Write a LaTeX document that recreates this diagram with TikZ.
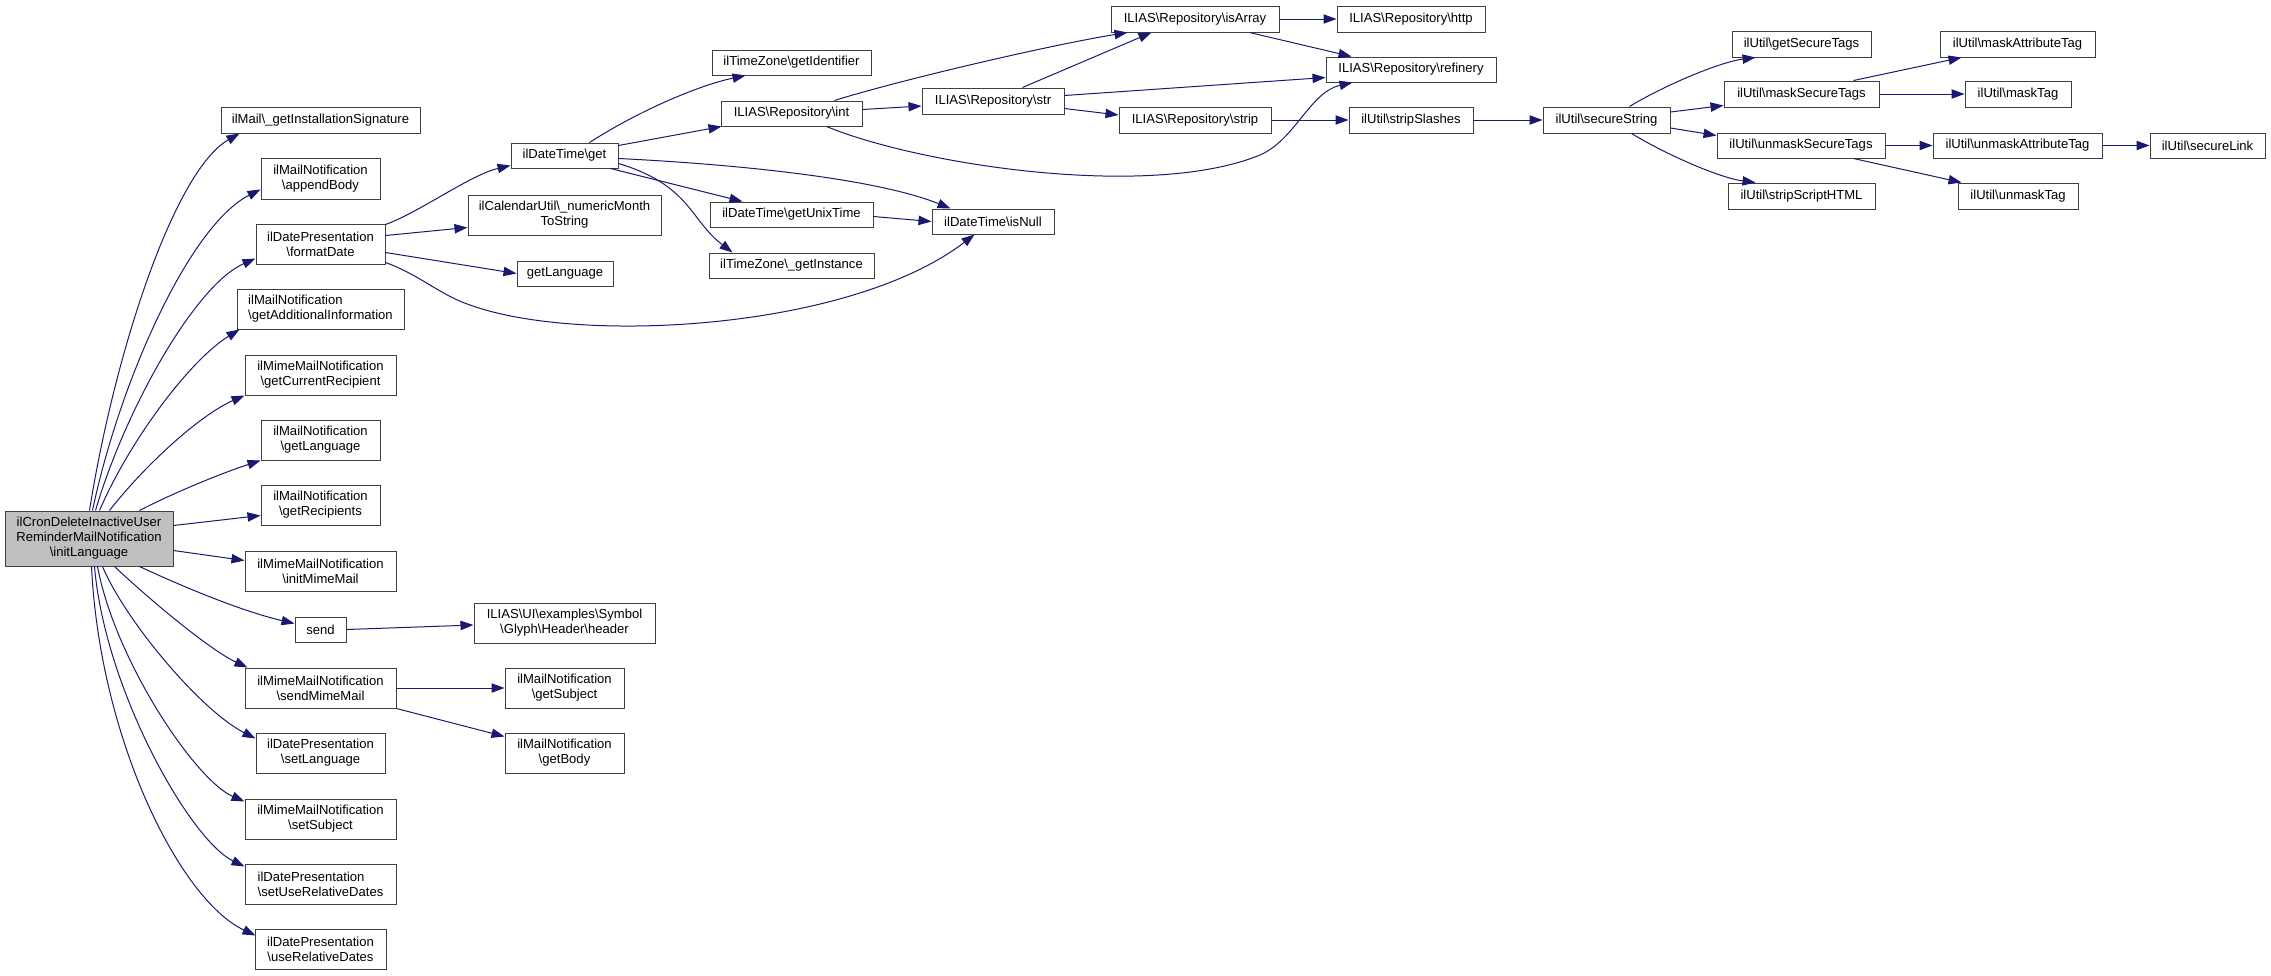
\documentclass[tikz,border=0pt]{standalone}
\usepackage{fontspec}
\setmainfont{Liberation Sans}
\usetikzlibrary{arrows.meta,calc}
\definecolor{edgeblue}{HTML}{191970}
\definecolor{boxborder}{HTML}{404040}
\definecolor{rootfill}{HTML}{BFBFBF}
\newcommand\BS{\textbackslash}
\newcommand\mkbox[7][]{%
  \pgfmathsetmacro\bxcx{(#3+#5)/2}%
  \pgfmathsetmacro\bxcy{(#4+#6)/2}%
  \pgfmathsetmacro\bxw{(#5-#3)*0.75}%
  \pgfmathsetmacro\bxh{(#6-#4)*0.75}%
  \node[box,minimum width=\bxw pt,minimum height=\bxh pt,#1] (#2) at (\bxcx,\bxcy) {#7};}
\tikzset{
  box/.style={draw=boxborder, line width=0.75pt, fill=white, inner sep=0pt, align=center,
    font=\fontsize{9.8}{11.25}\selectfont},
  e/.style={draw=edgeblue, line width=0.75pt, -{Triangle[length=9.75pt,width=7pt]}},
}
\begin{document}
\begin{tikzpicture}[x=0.75pt,y=-0.75pt]
\useasboundingbox (0,0) rectangle (2271,975);
% ---- nodes
\mkbox[fill=rootfill]{root}{5}{511}{173}{566}{ilCronDeleteInactiveUser\\ReminderMailNotification\\\BS initLanguage}
\mkbox{sig}{221}{107}{420}{133}{ilMail\BS\_getInstallationSignature}
\mkbox{append}{261}{158}{380}{199}{ilMailNotification\\\BS appendBody}
\mkbox{fmt}{256}{224}{385}{264}{ilDatePresentation\\\BS formatDate}
\mkbox[align=left]{addinfo}{237}{289}{404}{329}{ilMailNotification\\\BS getAdditionalInformation}
\mkbox{currec}{245}{355}{396}{395}{ilMimeMailNotification\\\BS getCurrentRecipient}
\mkbox{mnlang}{261}{420}{380}{460}{ilMailNotification\\\BS getLanguage}
\mkbox{recip}{261}{485}{380}{525}{ilMailNotification\\\BS getRecipients}
\mkbox{initmm}{245}{551}{396}{591}{ilMimeMailNotification\\\BS initMimeMail}
\mkbox{send}{295}{617}{346}{642}{send}
\mkbox{sendmm}{245}{668}{396}{708}{ilMimeMailNotification\\\BS sendMimeMail}
\mkbox{setlang}{256}{733}{385}{773}{ilDatePresentation\\\BS setLanguage}
\mkbox{setsubj}{245}{799}{396}{839}{ilMimeMailNotification\\\BS setSubject}
\mkbox[align=left]{setrel}{245}{864}{396}{904}{ilDatePresentation\\\BS setUseRelativeDates}
\mkbox{userel}{255}{929}{386}{969}{ilDatePresentation\\\BS useRelativeDates}
\mkbox{get}{511}{143}{618}{168}{ilDateTime\BS get}
\mkbox{nmts}{468}{195}{661}{235}{ilCalendarUtil\BS\_numericMonth\\ToString}
\mkbox{glang}{517}{261}{613}{286}{getLanguage}
\mkbox{getid}{712}{50}{871}{75}{ilTimeZone\BS getIdentifier}
\mkbox{int}{721}{101}{862}{126}{ILIAS\BS Repository\BS int}
\mkbox{unix}{710}{202}{873}{227}{ilDateTime\BS getUnixTime}
\mkbox{inst}{709}{253}{874}{278}{ilTimeZone\BS\_getInstance}
\mkbox{isnull}{932}{209}{1054}{234}{ilDateTime\BS isNull}
\mkbox{isarray}{1111}{6}{1279}{32}{ILIAS\BS Repository\BS isArray}
\mkbox{str}{922}{88}{1064}{114}{ILIAS\BS Repository\BS str}
\mkbox{strip}{1119}{107}{1271}{133}{ILIAS\BS Repository\BS strip}
\mkbox{http}{1337}{6}{1485}{32}{ILIAS\BS Repository\BS http}
\mkbox{refin}{1326}{57}{1496}{82}{ILIAS\BS Repository\BS refinery}
\mkbox{slashes}{1349}{107}{1473}{133}{ilUtil\BS stripSlashes}
\mkbox{sstr}{1543}{107}{1670}{133}{ilUtil\BS secureString}
\mkbox{gst}{1732}{31}{1871}{57}{ilUtil\BS getSecureTags}
\mkbox{mst}{1724}{81}{1879}{107}{ilUtil\BS maskSecureTags}
\mkbox{ust}{1717}{133}{1885}{158}{ilUtil\BS unmaskSecureTags}
\mkbox{ssh}{1728}{183}{1875}{209}{ilUtil\BS stripScriptHTML}
\mkbox{mat}{1940}{31}{2095}{57}{ilUtil\BS maskAttributeTag}
\mkbox{mtag}{1965}{81}{2071}{107}{ilUtil\BS maskTag}
\mkbox{uat}{1933}{133}{2102}{158}{ilUtil\BS unmaskAttributeTag}
\mkbox{slink}{2150}{133}{2265}{158}{ilUtil\BS secureLink}
\mkbox{utag}{1958}{183}{2078}{209}{ilUtil\BS unmaskTag}
\mkbox{header}{474}{603}{655}{643}{ILIAS\BS UI\BS examples\BS Symbol\\\BS Glyph\BS Header\BS header}
\mkbox{gsubj}{505}{668}{624}{708}{ilMailNotification\\\BS getSubject}
\mkbox{gbody}{505}{733}{624}{773}{ilMailNotification\\\BS getBody}
% ---- edges from root
\draw[e] ($(root.north west)+(85,0)$) .. controls (115,350) and (175,170) .. ($(sig.south west)+(19,0)$);
\draw[e] ($(root.north west)+(88,0)$) .. controls (120,380) and (190,225) .. ($(append.south west)+(0,-10)$);
\draw[e] ($(root.north west)+(91,0)$) .. controls (125,410) and (195,285) .. ($(fmt.south west)+(0,-6)$);
\draw[e] ($(root.north west)+(95,0)$) .. controls (130,440) and (190,360) .. ($(addinfo.south west)+(3,0)$);
\draw[e] ($(root.north west)+(105,0)$) .. controls (145,465) and (200,415) .. (currec.south west);
\draw[e] ($(root.north west)+(135,0)$) .. controls (175,492) and (225,472) .. (mnlang.south west);
\draw[e] ($(root.north east)+(0,15)$) -- ($(recip.south west)+(0,-10)$);
\draw[e] ($(root.north east)+(0,40)$) -- ($(initmm.north west)+(0,10)$);
\draw[e] ($(root.south west)+(135,0)$) .. controls (190,590) and (245,612) .. ($(send.north west)+(0,7)$);
\draw[e] ($(root.south west)+(110,0)$) .. controls (150,600) and (210,650) .. ($(sendmm.north west)+(3,0)$);
\draw[e] ($(root.south west)+(98,0)$) .. controls (125,620) and (200,710) .. ($(setlang.north west)+(0,6)$);
\draw[e] ($(root.south west)+(93,0)$) .. controls (115,660) and (195,780) .. ($(setsubj.north west)+(0,3)$);
\draw[e] ($(root.south west)+(90,0)$) .. controls (105,690) and (190,840) .. ($(setrel.north west)+(0,3)$);
\draw[e] ($(root.south west)+(87,0)$) .. controls (100,740) and (180,900) .. ($(userel.north west)+(1,7)$);
% ---- formatDate
\draw[e] ($(fmt.north east)+(0,1)$) .. controls (420,212) and (470,175) .. ($(get.south west)+(0,-3)$);
\draw[e] ($(fmt.north east)+(0,12)$) -- ($(nmts.south west)+(0,-8)$);
\draw[e] ($(fmt.south east)+(0,-12)$) -- (glang.west);
\draw[e] ($(fmt.south east)+(0,-2)$) .. controls (420,275) and (440,295) .. (470,305)
   .. controls (580,345) and (850,330) .. ($(isnull.south west)+(43,0)$);
% ---- ilDateTime get
\draw[e] ($(get.north west)+(79,0)$) .. controls (640,110) and (700,85) .. ($(getid.south west)+(34,0)$);
\draw[e] ($(get.north east)+(0,3)$) -- ($(int.south west)+(1,0)$);
\draw[e] ($(get.north east)+(0,16)$) .. controls (750,165) and (880,180) .. ($(isnull.north west)+(19,0)$);
\draw[e] ($(get.south east)+(-8,0)$) -- ($(unix.north west)+(33,0)$);
\draw[e] ($(get.south east)+(0,-5)$) .. controls (690,185) and (690,220) .. ($(inst.north west)+(24,0)$);
\draw[e] ($(unix.east)+(0,2)$) -- (isnull.west);
% ---- repository
\draw[e] ($(int.north west)+(114,0)$) .. controls (900,80) and (1050,45) .. ($(isarray.south west)+(17,0)$);
\draw[e] ($(int.east)+(0,-4)$) -- ($(str.west)+(0,5)$);
\draw[e] ($(int.south west)+(106,0)$) .. controls (920,165) and (1150,200) .. (1260,155)
   .. controls (1295,140) and (1310,92) .. ($(refin.south west)+(27,0)$);
\draw[e] ($(str.north west)+(101,0)$) -- ($(isarray.south west)+(41,0)$);
\draw[e] ($(str.north east)+(0,8)$) -- ($(refin.south west)+(0,-5)$);
\draw[e] ($(str.south east)+(0,-6)$) -- ($(strip.west)+(0,-5)$);
\draw[e] (isarray.east) -- (http.west);
\draw[e] ($(isarray.south west)+(139,0)$) -- ($(refin.north west)+(26,0)$);
\draw[e] (strip.east) -- (slashes.west);
\draw[e] (slashes.east) -- (sstr.west);
% ---- ilUtil
\draw[e] ($(sstr.north west)+(87,0)$) .. controls (1665,85) and (1720,62) .. ($(gst.south west)+(24,0)$);
\draw[e] ($(sstr.east)+(0,-8)$) -- ($(mst.south west)+(0,-2)$);
\draw[e] ($(sstr.east)+(0,8)$) -- ($(ust.north west)+(0,3)$);
\draw[e] ($(sstr.south west)+(89,0)$) .. controls (1667,155) and (1720,178) .. ($(ssh.north west)+(28,0)$);
\draw[e] ($(mst.north west)+(130,0)$) -- ($(mat.south west)+(22,0)$);
\draw[e] (mst.east) -- (mtag.west);
\draw[e] (ust.east) -- (uat.west);
\draw[e] ($(ust.south west)+(137,0)$) -- ($(utag.north west)+(4,0)$);
\draw[e] (uat.east) -- (slink.west);
% ---- send / sendMimeMail
\draw[e] (send.east) -- ($(header.west)+(0,2)$);
\draw[e] (sendmm.east) -- (gsubj.west);
\draw[e] (sendmm.south east) -- ($(gbody.north west)+(0,4)$);
\end{tikzpicture}
\end{document}
